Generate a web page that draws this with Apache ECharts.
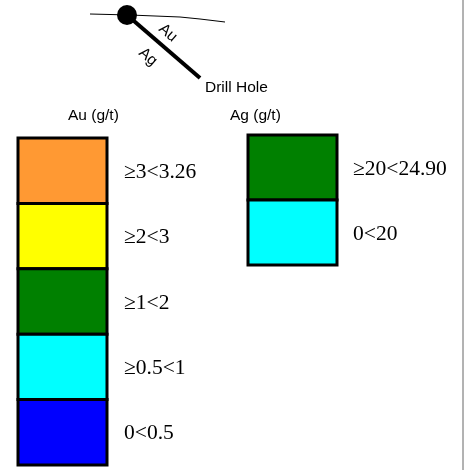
<!DOCTYPE html>
<html>
<head>
<meta charset="utf-8">
<script src="https://cdn.jsdelivr.net/npm/echarts@6/dist/echarts.min.js"></script>
<style>html,body{margin:0;padding:0;background:#fff;}#c{width:465px;height:474px;}</style>
</head>
<body>
<div id="c"></div>
<script>
const auTitle = 'Au (g/t)';
const agTitle = 'Ag (g/t)';
const auClasses = ['≥3<3.26', '≥2<3', '≥1<2', '≥0.5<1', '0<0.5'];
const auColors = ['#FF9933', '#FFFF00', '#008000', '#00FFFF', '#0000FF'];
const agClasses = ['≥20<24.90', '0<20'];
const agColors = ['#008000', '#00FFFF'];
const diagramLabels = { upper: 'Au', lower: 'Ag', hole: 'Drill Hole' };

const chart = echarts.init(document.getElementById('c'), null, { renderer: 'canvas' });

function makeRender(classes, colors, x0, x1, yTop, h, textX) {
  return function (params, api) {
    const i = params.dataIndex;
    const p0 = api.coord([x0, yTop + i * h]);
    const p1 = api.coord([x1, yTop + (i + 1) * h]);
    const tp = api.coord([textX, yTop + (i + 0.5) * h + 1.5]);
    return {
      type: 'group',
      children: [
        { type: 'rect', shape: { x: p0[0], y: p0[1], width: p1[0] - p0[0], height: p1[1] - p0[1] },
          style: { fill: colors[i], stroke: '#000', lineWidth: 3 } },
        { type: 'text', style: { text: classes[i], x: tp[0], y: tp[1], fill: '#000',
          font: '21.5px "Liberation Serif", "Times New Roman", serif', verticalAlign: 'middle', textAlign: 'left' } }
      ]
    };
  };
}

const sansFont = '15.5px "Liberation Sans", Arial, sans-serif';

chart.setOption({
  animation: false,
  backgroundColor: '#fff',
  grid: { left: 0, right: 0, top: 0, bottom: 0 },
  xAxis: { type: 'value', min: 0, max: 465, show: false },
  yAxis: { type: 'value', min: 0, max: 474, inverse: true, show: false },
  graphic: [
    { type: 'line', shape: { x1: 463, y1: 0, x2: 463, y2: 470 }, style: { stroke: '#666', lineWidth: 1 } },
    { type: 'polyline', shape: { points: [[90, 14], [130, 15], [180, 17], [200, 19], [225, 22]] },
      style: { stroke: '#000', lineWidth: 1, fill: null } },
    { type: 'line', shape: { x1: 127, y1: 15, x2: 200, y2: 78 }, style: { stroke: '#000', lineWidth: 4 } },
    { type: 'circle', shape: { cx: 127, cy: 15, r: 10 }, style: { fill: '#000' } },
    { type: 'text', x: 168, y: 33, rotation: -0.712,
      style: { text: diagramLabels.upper, font: sansFont, fill: '#000', textAlign: 'center', verticalAlign: 'middle' } },
    { type: 'text', x: 148, y: 57, rotation: -0.712,
      style: { text: diagramLabels.lower, font: sansFont, fill: '#000', textAlign: 'center', verticalAlign: 'middle' } },
    { type: 'text', x: 205, y: 88,
      style: { text: diagramLabels.hole, font: sansFont, fill: '#000', textAlign: 'left', verticalAlign: 'middle' } },
    { type: 'text', x: 68, y: 116,
      style: { text: auTitle, font: sansFont, fill: '#000', textAlign: 'left', verticalAlign: 'middle' } },
    { type: 'text', x: 230, y: 116,
      style: { text: agTitle, font: sansFont, fill: '#000', textAlign: 'left', verticalAlign: 'middle' } }
  ],
  series: [
    { type: 'custom', coordinateSystem: 'cartesian2d', clip: false,
      renderItem: makeRender(auClasses, auColors, 18, 107, 138, 65.4, 124),
      data: auClasses.map((c, i) => [i, i]) },
    { type: 'custom', coordinateSystem: 'cartesian2d', clip: false,
      renderItem: makeRender(agClasses, agColors, 248, 337, 135, 65, 353),
      data: agClasses.map((c, i) => [i, i]) }
  ]
});
</script>
</body>
</html>
